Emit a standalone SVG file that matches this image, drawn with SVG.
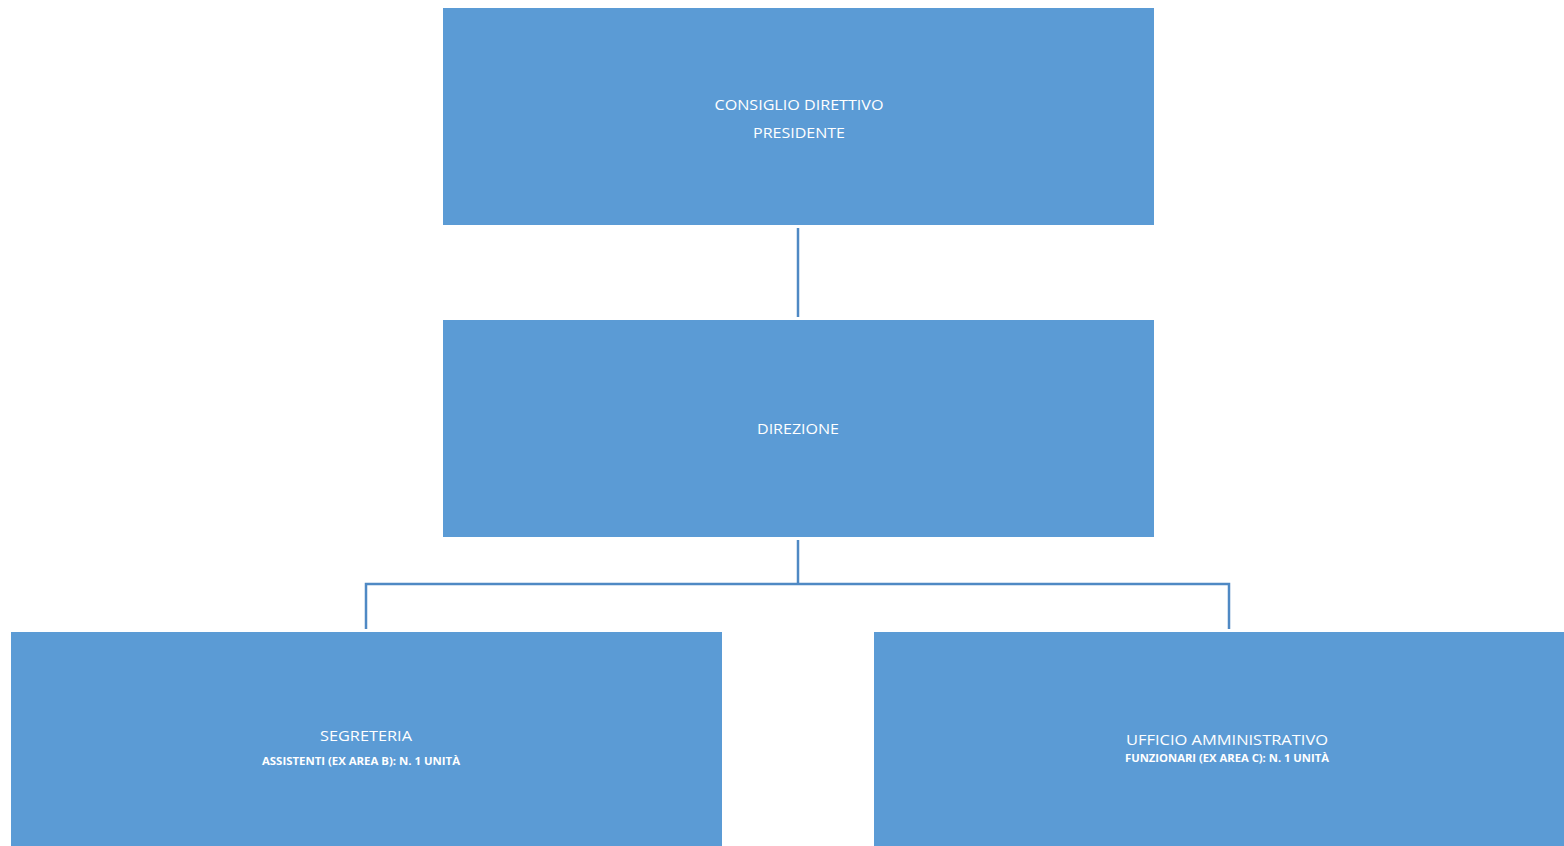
<svg xmlns="http://www.w3.org/2000/svg" width="1564" height="846" viewBox="0 0 1564 846">
<style>
.box{fill:#5B9BD5;}
.t{font-family:"Open Sans","Liberation Sans",sans-serif;fill:#ffffff;font-size:15px;text-anchor:middle;}
.s{font-family:"Open Sans","Liberation Sans",sans-serif;fill:#ffffff;font-size:10.5px;font-weight:bold;text-anchor:middle;}
.c{stroke:#4F89C4;stroke-width:2.5;fill:none;}
</style>
<rect width="1564" height="846" fill="#ffffff"/>
<g id="connectors">
<line class="c" x1="798" y1="228" x2="798" y2="317"/>
<polyline class="c" points="798,540 798,584"/>
<polyline class="c" points="366,629 366,584 1229,584 1229,629"/>
</g>
<g id="consiglio">
<rect class="box" x="443" y="8" width="711" height="217"/>
<text class="t" x="799" y="110" textLength="169" lengthAdjust="spacingAndGlyphs">CONSIGLIO DIRETTIVO</text>
<text class="t" x="799" y="138" textLength="92" lengthAdjust="spacingAndGlyphs">PRESIDENTE</text>
</g>
<g id="direzione">
<rect class="box" x="443" y="320" width="711" height="217"/>
<text class="t" x="798" y="434" textLength="82" lengthAdjust="spacingAndGlyphs">DIREZIONE</text>
</g>
<g id="segreteria">
<rect class="box" x="11" y="632" width="711" height="214"/>
<text class="t" x="366" y="741" textLength="92" lengthAdjust="spacingAndGlyphs">SEGRETERIA</text>
<text class="s" x="361" y="765" textLength="198" lengthAdjust="spacingAndGlyphs">ASSISTENTI (EX AREA B): N. 1 UNITÀ</text>
</g>
<g id="ufficio">
<rect class="box" x="874" y="632" width="690" height="214"/>
<text class="t" x="1227" y="745" textLength="202" lengthAdjust="spacingAndGlyphs">UFFICIO AMMINISTRATIVO</text>
<text class="s" x="1227" y="762" textLength="204" lengthAdjust="spacingAndGlyphs">FUNZIONARI (EX AREA C): N. 1 UNITÀ</text>
</g>
</svg>
